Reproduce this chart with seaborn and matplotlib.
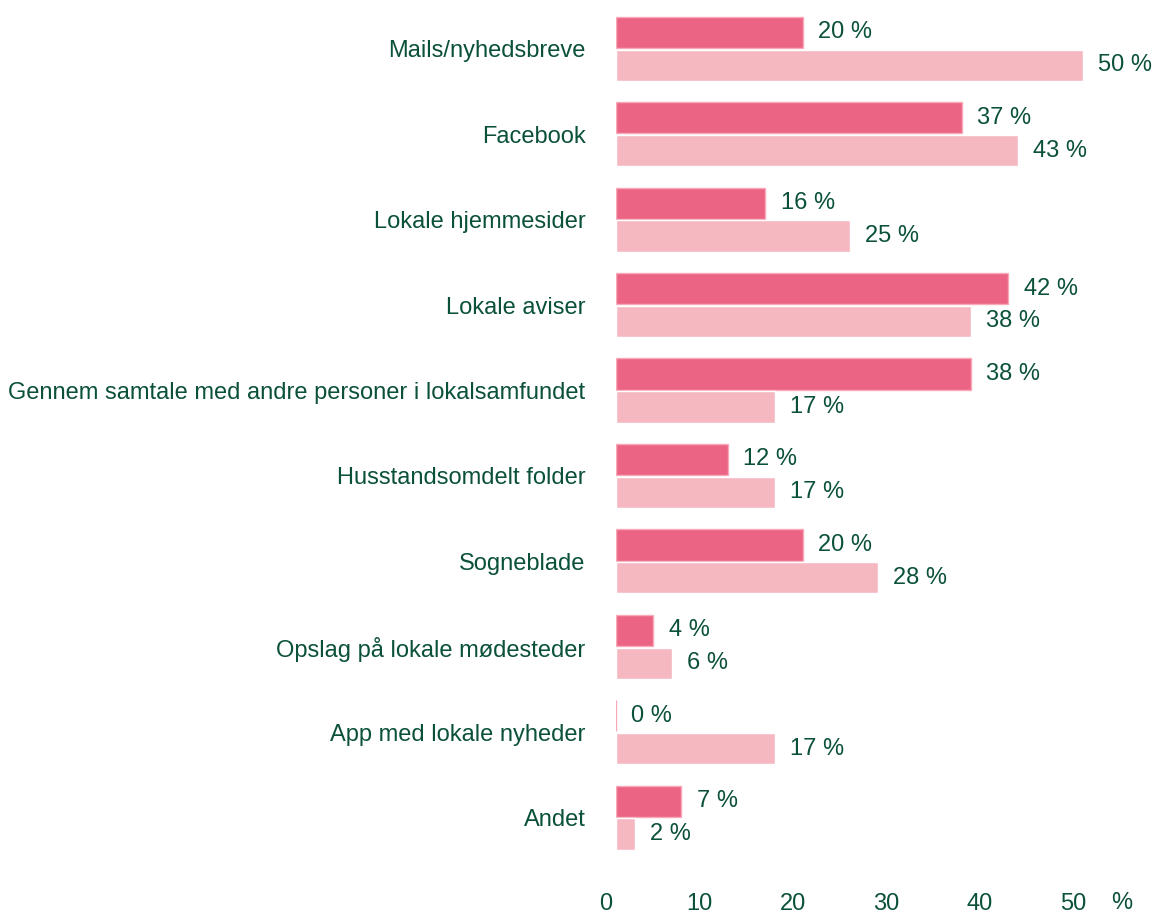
import pandas as pd
import numpy as np
import matplotlib
matplotlib.use("Agg")
import matplotlib.pyplot as plt
import matplotlib.transforms as mtransforms
import seaborn as sns

# Data
categories = ["Mails/nyhedsbreve", "Facebook", "Lokale hjemmesider", "Lokale aviser",
              "Gennem samtale med andre personer i lokalsamfundet", "Husstandsomdelt folder",
              "Sogneblade", "Opslag på lokale mødesteder", "App med lokale nyheder", "Andet"]
series_names = ["Serie 1", "Serie 2"]
values_dark = [20, 37, 16, 42, 38, 12, 20, 4, 0, 7]
values_light = [50, 43, 25, 38, 17, 17, 28, 6, 17, 2]
x_ticks = [0, 10, 20, 30, 40, 50]

dark = "#EC6483"
light = "#F5B8C1"
green = "#0B5138"

df = pd.DataFrame({
    "kategori": categories * 2,
    "andel": values_dark + values_light,
    "serie": [series_names[0]] * len(categories) + [series_names[1]] * len(categories),
})

sns.set_style("white")
plt.rcParams["font.family"] = ["Liberation Sans", "DejaVu Sans"]

fig = plt.figure(figsize=(11.6, 9.14), dpi=100)
ax = fig.add_axes([616 / 1160, 1 - 880 / 914, 544 / 1160, (880 - 6) / 914])

sns.barplot(data=df, y="kategori", x="andel", hue="serie", orient="h",
            palette=[dark, light], saturation=1, width=0.77, gap=0.05,
            legend=False, ax=ax)

# thin outline on the dark bars (makes the 0 % bar visible as a line)
for bar in ax.containers[0]:
    bar.set_edgecolor("#F7A9BA")
    bar.set_linewidth(1)

for cont in ax.containers:
    ax.bar_label(cont, fmt="{:.0f} %", padding=11, fontsize=17, color=green)

ax.set_xlim(0, 544 / 9.34)
ax.set_ylim(9.73, -0.5)
ax.set_xticks(x_ticks)
ax.set_xlabel("")
ax.set_ylabel("")
ax.tick_params(axis="y", length=0, pad=22, labelsize=17, labelcolor=green)
ax.tick_params(axis="x", length=0, pad=9, labelsize=17, labelcolor=green)

offset = mtransforms.ScaledTranslation(-10 / 100, 0, fig.dpi_scale_trans)
for lab in ax.get_xticklabels():
    lab.set_transform(lab.get_transform() + offset)

ax.text(1122 / 1160, 1 - 903 / 914, "%", transform=fig.transFigure,
        ha="center", va="center", fontsize=17, color=green)

sns.despine(ax=ax, left=True, bottom=True)

plt.savefig("out.png", dpi=100)
